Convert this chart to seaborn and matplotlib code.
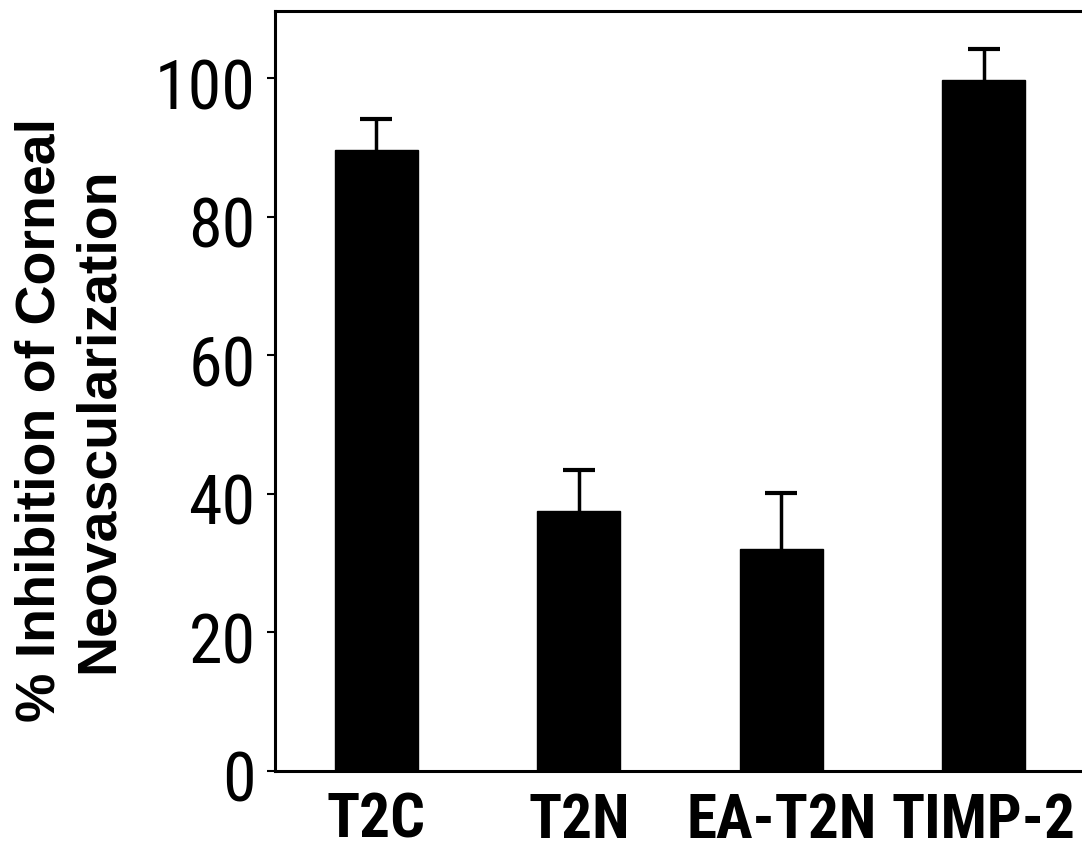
import matplotlib
matplotlib.use("Agg")
import matplotlib.pyplot as plt
import matplotlib.transforms as mtransforms
from matplotlib import font_manager
from matplotlib.font_manager import FontProperties
import seaborn as sns
import pandas as pd

# Treatment groups and measured inhibition (mean with upper SE)
categories = ["T2C", "T2N", "EA-T2N", "TIMP-2"]
inhibition = [89.6, 37.5, 32.0, 99.8]
upper_err = [4.5, 5.9, 8.1, 4.4]
y_ticks = [0, 20, 40, 60, 80, 100]

sns.set_theme(style="white")
plt.rcParams["font.family"] = ["Liberation Sans", "DejaVu Sans"]
for key in ["text.color", "axes.labelcolor", "xtick.color", "ytick.color"]:
    plt.rcParams[key] = "black"


def condensed_font(bold, size):
    """Pick an installed narrow/condensed sans face, falling back to Liberation Sans."""
    prefs = ["liberationsansnarrow", "robotocondensed", "opensanscondensed",
             "dejavusanscondensed", "notosanscondensed"]
    faces = []
    for f in font_manager.fontManager.ttflist:
        fn = f.fname.lower().replace("-", "").replace("_", "").replace(" ", "")
        if ("narrow" in fn or "condensed" in fn) and "italic" not in fn and "oblique" not in fn \
                and "mono" not in fn and "serif" not in fn.replace("sansserif", ""):
            w = f.weight if isinstance(f.weight, int) else (700 if "bold" in str(f.weight) else 400)
            if bold and w < 600:
                continue
            if not bold and (w >= 600 or "light" in fn or "thin" in fn or "medium" in fn or "semi" in fn):
                continue
            rank = next((i for i, p in enumerate(prefs) if p in fn), len(prefs))
            if "extra" in fn or "ultra" in fn or "semicondensed" in fn:
                rank += 10
            faces.append((rank, f.fname))
    if faces:
        faces.sort()
        return FontProperties(fname=faces[0][1], size=size)
    return FontProperties(family="Liberation Sans", weight="bold" if bold else "normal",
                          size=size * 0.84)


x_font = condensed_font(True, 44)
y_font = condensed_font(False, 49)

df = pd.DataFrame({"group": categories, "value": inhibition})

fig = plt.figure(figsize=(10.82, 8.52), dpi=100)
ax = fig.add_axes([275 / 1082, 81 / 852, 810 / 1082, 760 / 852])

sns.barplot(data=df, x="group", y="value", order=categories, color="black",
            width=0.41, errorbar=None, saturation=1, edgecolor="black", ax=ax)

# One-sided (upper) error bars: drop the caps drawn at the bar tops
_, caplines, _ = ax.errorbar(range(len(categories)), inhibition,
                             yerr=[[0] * len(categories), upper_err],
                             fmt="none", ecolor="black", elinewidth=2.5,
                             capsize=11.5, capthick=3)
caplines[0].remove()

ax.set_xlim(-0.5, 3.5)
ax.set_ylim(0, 109.7)
ax.set_yticks(y_ticks)
ax.set_yticklabels([str(t) for t in y_ticks], fontproperties=y_font)
ax.set_xticks(range(len(categories)))
ax.set_xticklabels(categories, fontproperties=x_font)
ax.set_xticks([0.5, 1.5, 2.5], minor=True)
ax.tick_params(axis="x", which="major", length=0, pad=15)
ax.tick_params(axis="x", which="minor", length=5, width=1.5, direction="out", color="black")
ax.tick_params(axis="y", length=6, width=1.5, direction="out", color="black", pad=8, left=True)
ax.set_xlabel("")
ax.set_ylabel("")

# Shift y tick labels slightly downward
offset = mtransforms.ScaledTranslation(0, -5 / 100, fig.dpi_scale_trans)
for lbl in ax.get_yticklabels():
    lbl.set_transform(lbl.get_transform() + offset)

for side in ["left", "bottom", "top"]:
    ax.spines[side].set_visible(True)
    ax.spines[side].set_color("black")
    ax.spines[side].set_linewidth(2.2)
ax.spines["right"].set_visible(False)

fig.text(70 / 1082, 1 - 420 / 852, "% Inhibition of Corneal\nNeovascularization",
         rotation=90, ha="center", va="center", multialignment="center",
         fontsize=40, fontweight="bold", linespacing=1.15, color="black")

fig.savefig("out.png", dpi=100, facecolor="white")
